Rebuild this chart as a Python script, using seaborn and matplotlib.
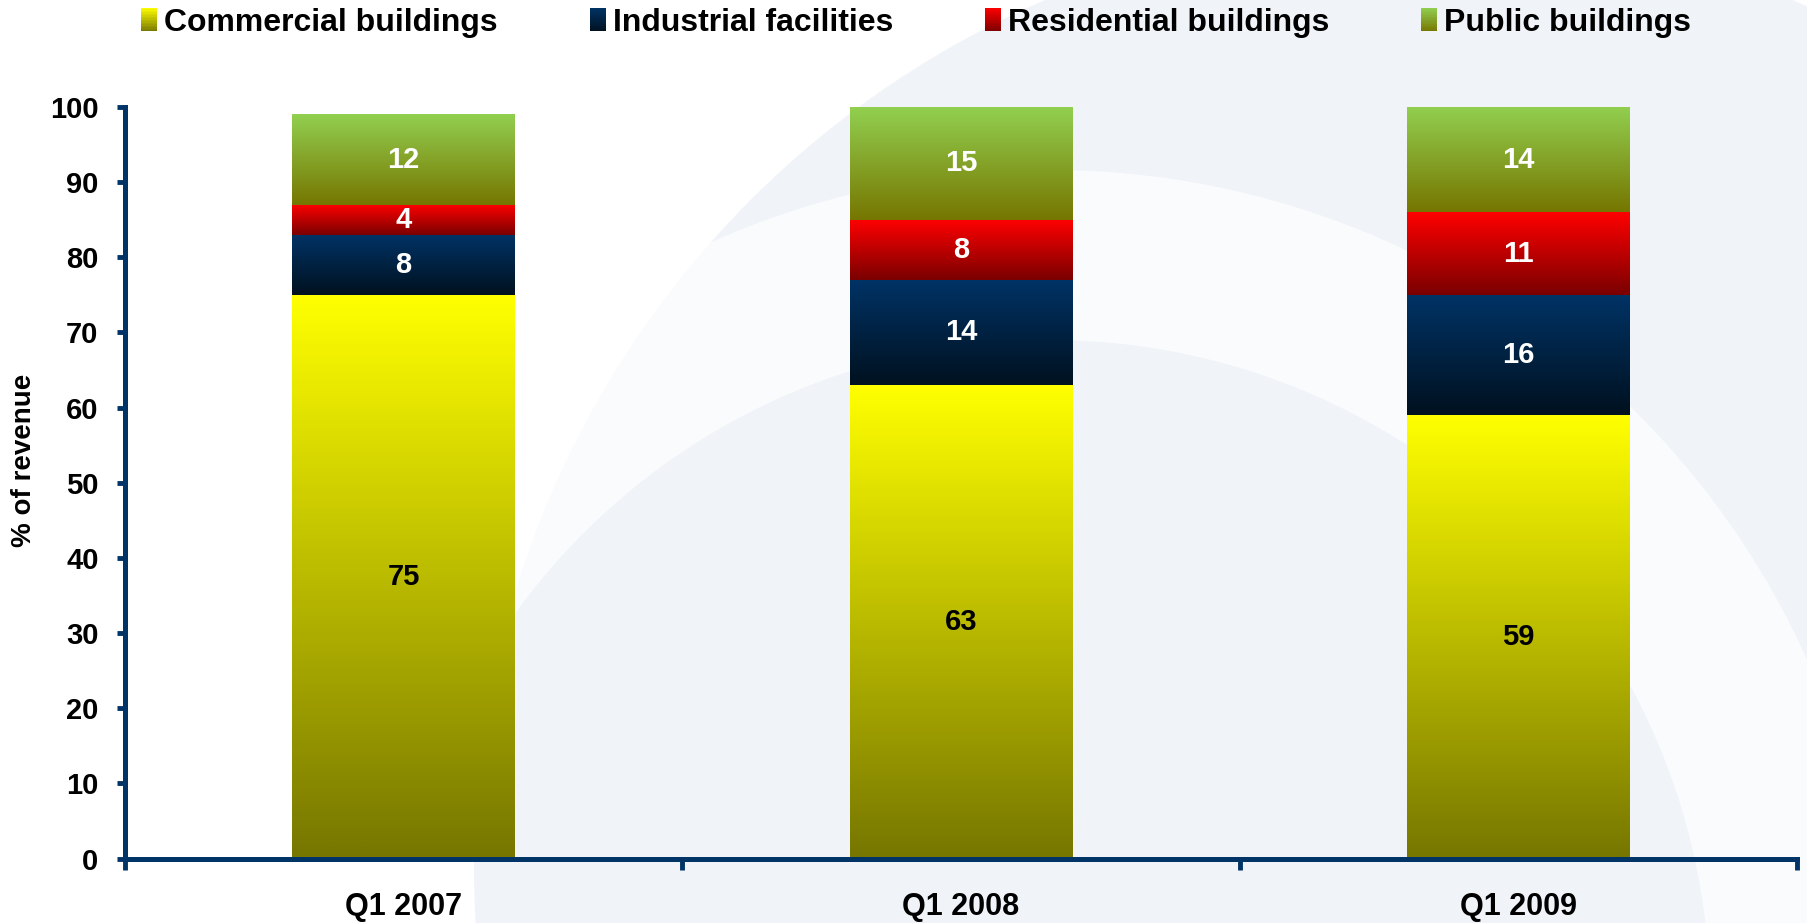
import numpy as np
import pandas as pd
import matplotlib
matplotlib.use("Agg")
import matplotlib.pyplot as plt
import seaborn as sns
from matplotlib.colors import LinearSegmentedColormap, to_rgb
from matplotlib.patches import Rectangle, Circle, Wedge
from matplotlib.legend_handler import HandlerBase
from matplotlib import font_manager

# ---------------- data ----------------
quarters = ["Q1 2007", "Q1 2008", "Q1 2009"]
series_names = ["Commercial buildings", "Industrial facilities", "Residential buildings", "Public buildings"]
commercial = [75, 63, 59]
industrial = [8, 14, 16]
residential = [4, 8, 11]
public = [12, 15, 14]
y_ticks = [0, 10, 20, 30, 40, 50, 60, 70, 80, 90, 100]
y_label = "% of revenue"

# ---------------- style ----------------
sns.set_theme(style="white")
plt.rcParams["font.family"] = ["Liberation Sans", "DejaVu Sans"]
plt.rcParams["text.color"] = "black"
plt.rcParams["axes.labelcolor"] = "black"

NAVY = "#003366"
grad_colors = {
    "Commercial buildings": ("#ffff00", "#767600"),
    "Industrial facilities": ("#003366", "#00111f"),
    "Residential buildings": ("#ff0000", "#7a0000"),
    "Public buildings": ("#92d050", "#767600"),
}
label_colors = {
    "Commercial buildings": "black",
    "Industrial facilities": "white",
    "Residential buildings": "white",
    "Public buildings": "white",
}

df = pd.DataFrame({
    "quarter": quarters,
    "Commercial buildings": commercial,
    "Industrial facilities": industrial,
    "Residential buildings": residential,
    "Public buildings": public,
})

W, H = 1807, 923
fig = plt.figure(figsize=(W / 100, H / 100), dpi=100)
fig.patch.set_facecolor("white")

# decorative background (template swoosh), in pixel coordinates
bgax = fig.add_axes([0, 0, 1, 1], zorder=-1)
bgax.set_xlim(0, W)
bgax.set_ylim(H, 0)
bgax.axis("off")
bgax.add_patch(Circle((1419, 868), 945, facecolor="#f0f3f8", edgecolor="none"))
bgax.add_patch(Wedge((1050, 1000), 830, 0, 360, width=170, facecolor="white",
                     edgecolor="none", alpha=0.7))

ax = fig.add_axes([125 / W, 1 - 858.5 / H, (1797 - 125) / W, (858.5 - 107) / H], zorder=1)
ax.set_facecolor("none")

bottom = np.zeros(len(quarters))
for name in series_names:
    vals = df[name].to_numpy(dtype=float)
    top_c, bot_c = grad_colors[name]
    sns.barplot(data=df, x="quarter", y=name, bottom=bottom, width=0.4,
                color=top_c, errorbar=None, ax=ax, saturation=1, zorder=2)
    bottom = bottom + vals

# vertical gradients for each bar segment
n_q = len(quarters)
patches = list(ax.patches)
for si, name in enumerate(series_names):
    top_c, bot_c = grad_colors[name]
    cmap = LinearSegmentedColormap.from_list(name, [bot_c, top_c])
    for qi in range(n_q):
        p = patches[si * n_q + qi]
        x0, y0 = p.get_x(), p.get_y()
        w, h = p.get_width(), p.get_height()
        grad = np.linspace(0, 1, 256).reshape(-1, 1)
        ax.imshow(grad, extent=[x0, x0 + w, y0, y0 + h], origin="lower",
                  aspect="auto", cmap=cmap, zorder=2.5, interpolation="bicubic")
        p.set_facecolor("none")
        p.set_edgecolor("none")
        ax.text(x0 + w / 2, y0 + h / 2, f"{int(round(h))}", ha="center", va="center",
                fontsize=21, fontweight="bold", color=label_colors[name], zorder=4)

ax.set_xlim(-0.5, n_q - 0.5)
ax.set_ylim(0, 100)
ax.set_yticks(y_ticks)
ax.set_yticklabels([str(t) for t in y_ticks], fontsize=21, fontweight="bold")
ax.set_xticks(range(n_q))
ax.set_xticklabels(quarters, fontsize=22, fontweight="bold")
ax.set_xticks(np.arange(-0.5, n_q, 1.0), minor=True)
ax.tick_params(axis="x", which="both", bottom=True)
ax.tick_params(axis="y", which="both", left=True)
ax.tick_params(axis="x", which="major", length=0, pad=24, labelcolor="black")
ax.tick_params(axis="x", which="minor", length=8, width=3.5, color=NAVY, direction="out")
ax.tick_params(axis="y", which="major", length=6, width=3.5, color=NAVY, direction="out",
               pad=13, labelcolor="black")
ax.set_xlabel("")
ax.set_ylabel(y_label, fontsize=20, fontweight="bold")
ax.yaxis.set_label_coords(-0.0526, 0.53)

for s in ["top", "right"]:
    ax.spines[s].set_visible(False)
for s in ["left", "bottom"]:
    ax.spines[s].set_color(NAVY)
    ax.spines[s].set_linewidth(3.6)
ax.grid(False)


class GradHandler(HandlerBase):
    def __init__(self, top, bot, n=16):
        super().__init__()
        self.top = np.array(to_rgb(top))
        self.bot = np.array(to_rgb(bot))
        self.n = n

    def create_artists(self, legend, orig_handle, xdescent, ydescent, width, height, fontsize, trans):
        arts = []
        for i in range(self.n):
            t = (i + 0.5) / self.n
            col = self.bot + (self.top - self.bot) * t
            r = Rectangle((-xdescent, -ydescent - 1 + (height + 2) * i / self.n), width,
                          (height + 2) / self.n + 0.3,
                          facecolor=col, edgecolor="none", transform=trans)
            arts.append(r)
        return arts


handles = [Rectangle((0, 0), 1, 1) for _ in series_names]
hmap = {h: GradHandler(*grad_colors[n]) for h, n in zip(handles, series_names)}
leg = fig.legend(handles, series_names, handler_map=hmap, loc="center",
                 bbox_to_anchor=(0.507, 1 - 23 / H), ncol=4, frameon=False,
                 prop=font_manager.FontProperties(family="Liberation Sans", weight="bold", size=23),
                 handlelength=0.5, handleheight=0.62, handletextpad=0.22, columnspacing=2.88,
                 borderpad=0.0)
for t in leg.get_texts():
    t.set_color("black")

fig.savefig("out.png", dpi=100, facecolor=fig.get_facecolor())
